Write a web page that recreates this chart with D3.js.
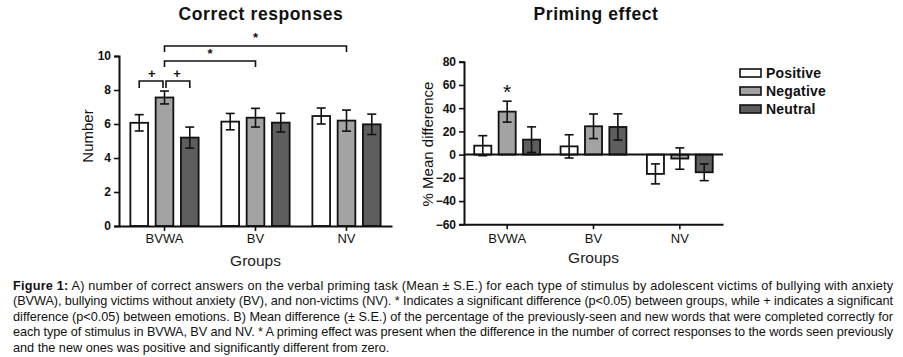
<!DOCTYPE html>
<html>
<head>
<meta charset="utf-8">
<script src="https://cdn.jsdelivr.net/npm/d3@7"></script>
<style>
  html, body { margin: 0; padding: 0; background: #fff; }
  svg { display: block; font-family: "Liberation Sans", Arial, sans-serif; }
</style>
</head>
<body>
<svg id="fig" width="903" height="357"></svg>
<script>
// ---------- DATA ----------
const groups = ["BVWA", "BV", "NV"];
const emotions = ["Positive", "Negative", "Neutral"];
// Correct responses (Mean, S.E.) per group, in emotion order
const correctMean = [[6.07, 7.56, 5.2], [6.14, 6.37, 6.08], [6.47, 6.2, 5.98]];
const correctSE   = [[0.48, 0.38, 0.62], [0.48, 0.55, 0.55], [0.47, 0.62, 0.6]];
// Priming effect (% mean difference, S.E.)
const primingMean = [[7.7, 37, 12.9], [7.1, 24.4, 23.8], [-16.6, -3.4, -15.2]];
const primingSE   = [[8.6, 9, 11], [10, 10.6, 11.3], [8.6, 9.2, 7.2]];
const leftTicks = [0, 2, 4, 6, 8, 10];
const rightTicks = [-60, -40, -20, 0, 20, 40, 60, 80];
const fills = ["#ffffff", "#a3a3a3", "#5e5e5e"];
const captionLines = [
  ["Figure 1:", " A) number of correct answers on the verbal priming task (Mean ± S.E.) for each type of stimulus by adolescent victims of bullying with anxiety"],
  ["", "(BVWA), bullying victims without anxiety (BV), and non-victims (NV). * Indicates a significant difference (p<0.05) between groups, while + indicates a significant"],
  ["", "difference (p<0.05) between emotions. B) Mean difference (± S.E.) of the percentage of the previously-seen and new words that were completed correctly for"],
  ["", "each type of stimulus in BVWA, BV and NV. * A priming effect was present when the difference in the number of correct responses to the words seen previously"],
  ["", "and the new ones was positive and significantly different from zero."]
];

const svg = d3.select("#fig");

function drawChart(opts) {
  const g = svg.append("g");
  const x = d3.scaleBand().domain(groups).range([opts.x0, opts.x1]);
  const xi = d3.scaleBand().domain(emotions).range([0, x.bandwidth()])
    .paddingInner(opts.innerPad).paddingOuter(opts.outerPad);
  const y = d3.scaleLinear().domain(opts.domain).range([opts.yBottom, opts.yTop]);

  groups.forEach((grp, gi) => {
    emotions.forEach((em, ei) => {
      const v = opts.mean[gi][ei], se = opts.se[gi][ei];
      const bx = x(grp) + xi(em);
      const cx = bx + xi.bandwidth() / 2;
      const base = y(Math.max(opts.domain[0], 0));
      g.append("rect")
        .attr("x", bx).attr("width", xi.bandwidth())
        .attr("y", Math.min(y(v), base))
        .attr("height", Math.abs(y(v) - base))
        .attr("fill", fills[ei]).attr("stroke", "#111").attr("stroke-width", 1.8);
      const hi = y(v + se), lo = y(v - se);
      g.append("line").attr("x1", cx).attr("x2", cx).attr("y1", hi).attr("y2", lo)
        .attr("stroke", "#111").attr("stroke-width", 1.6);
      [hi, lo].forEach(yy => g.append("line")
        .attr("x1", cx - 4.5).attr("x2", cx + 4.5).attr("y1", yy).attr("y2", yy)
        .attr("stroke", "#111").attr("stroke-width", 1.6));
    });
  });

  const ya = g.append("g").attr("transform", `translate(${opts.x0},0)`)
    .call(d3.axisLeft(y).tickValues(opts.ticks).tickSize(5).tickPadding(3));
  ya.select(".domain").attr("stroke", "#111").attr("stroke-width", 2);
  ya.selectAll(".tick line").attr("stroke", "#111").attr("stroke-width", 1.6);
  ya.selectAll(".tick text").attr("font-size", 12).attr("font-weight", "bold")
    .attr("fill", "#111").attr("font-family", "Liberation Sans, Arial, sans-serif");

  const xa = g.append("g").attr("transform", `translate(0,${opts.yBottom})`)
    .call(d3.axisBottom(x).tickSize(5).tickPadding(opts.xPad).tickSizeOuter(0));
  xa.select(".domain").attr("stroke", "#111").attr("stroke-width", 2);
  xa.selectAll(".tick line").attr("stroke", "#111").attr("stroke-width", 1.6);
  xa.selectAll(".tick text").attr("font-size", 13).attr("fill", "#111")
    .attr("font-family", "Liberation Sans, Arial, sans-serif");

  if (opts.domain[0] < 0) {
    g.append("line").attr("x1", opts.x0).attr("x2", opts.x1)
      .attr("y1", y(0)).attr("y2", y(0)).attr("stroke", "#111").attr("stroke-width", 2);
  }

  g.append("text").attr("x", opts.titleX).attr("y", 20).attr("text-anchor", "middle")
    .attr("font-size", 17.5).attr("letter-spacing", 0.6).attr("font-weight", "bold")
    .attr("fill", "#111").text(opts.title);
  g.append("text").attr("x", (opts.x0 + opts.x1) / 2).attr("y", opts.groupsY)
    .attr("text-anchor", "middle").attr("font-size", 15.5).attr("fill", "#222").text("Groups");
  g.append("text")
    .attr("transform", `translate(${opts.ylabX},${opts.ylabY}) rotate(-90)`)
    .attr("text-anchor", "middle").attr("font-size", opts.ylabSize).attr("fill", "#111")
    .text(opts.ylab);

  return { x, xi, y, g };
}

// ---------- LEFT CHART ----------
const L = drawChart({
  x0: 119, x1: 392, yTop: 56, yBottom: 226, domain: [0, 10], ticks: leftTicks,
  innerPad: 0.3, outerPad: 0.45, xPad: 3, groupsY: 266,
  mean: correctMean, se: correctSE,
  title: "Correct responses", titleX: 261, ylab: "Number", ylabX: 93, ylabY: 136, ylabSize: 15
});
function cxOf(chart, gi, ei) {
  return chart.x(groups[gi]) + chart.xi(emotions[ei]) + chart.xi.bandwidth() / 2;
}
function bracket(chart, xa, xb, yy, drop) {
  chart.g.append("path")
    .attr("d", `M${xa},${yy + drop}V${yy}H${xb}V${yy + drop}`)
    .attr("fill", "none").attr("stroke", "#111").attr("stroke-width", 1.6);
}
function mark(chart, xx, yy, txt, size) {
  chart.g.append("text").attr("x", xx).attr("y", yy).attr("text-anchor", "middle")
    .attr("font-size", size).attr("font-weight", "bold").attr("fill", "#111").text(txt);
}
const nb = cxOf(L, 0, 1);
bracket(L, nb, cxOf(L, 2, 1), 46, 6);
mark(L, (nb + cxOf(L, 2, 1)) / 2, 42, "*", 13);
bracket(L, nb, cxOf(L, 1, 1), 61, 6);
mark(L, (nb + cxOf(L, 1, 1)) / 2, 58, "*", 13);
bracket(L, cxOf(L, 0, 0), nb - 1.5, 81, 7);
bracket(L, nb + 1.5, cxOf(L, 0, 2), 81, 7);
mark(L, (cxOf(L, 0, 0) + nb) / 2, 78, "+", 13);
mark(L, (cxOf(L, 0, 2) + nb) / 2, 78, "+", 13);

// ---------- RIGHT CHART ----------
const R = drawChart({
  x0: 464, x1: 723, yTop: 61.7, yBottom: 224.3, domain: [-60, 80], ticks: rightTicks,
  innerPad: 0.3, outerPad: 0.42, xPad: 4, groupsY: 263,
  mean: primingMean, se: primingSE,
  title: "Priming effect", titleX: 596, ylab: "% Mean difference", ylabX: 433, ylabY: 144, ylabSize: 15
});
R.g.append("text").attr("x", cxOf(R, 0, 1)).attr("y", 99).attr("text-anchor", "middle")
  .attr("font-size", 21).attr("fill", "#111").text("*");

// legend
const lg = svg.append("g").attr("transform", "translate(740,0)");
emotions.forEach((em, i) => {
  const yy = 69 + i * 18;
  lg.append("rect").attr("x", 0).attr("y", yy).attr("width", 21).attr("height", 8)
    .attr("fill", fills[i]).attr("stroke", "#111").attr("stroke-width", 1.6);
  lg.append("text").attr("x", 26).attr("y", yy + 9).attr("font-size", 14)
    .attr("letter-spacing", 0.2).attr("font-weight", "bold").attr("fill", "#111").text(em);
});

// caption
const cap = svg.append("g");
captionLines.forEach((ln, i) => {
  const yy = 290 + i * 15.4;
  const t = cap.append("text").attr("x", 13).attr("y", yy).attr("font-size", 12.7).attr("fill", "#111");
  if (i < captionLines.length - 1) t.attr("textLength", 880).attr("lengthAdjust", "spacing");
  if (ln[0]) t.append("tspan").attr("font-weight", "bold").text(ln[0]);
  t.append("tspan").text(ln[1]);
});
</script>
</body>
</html>
